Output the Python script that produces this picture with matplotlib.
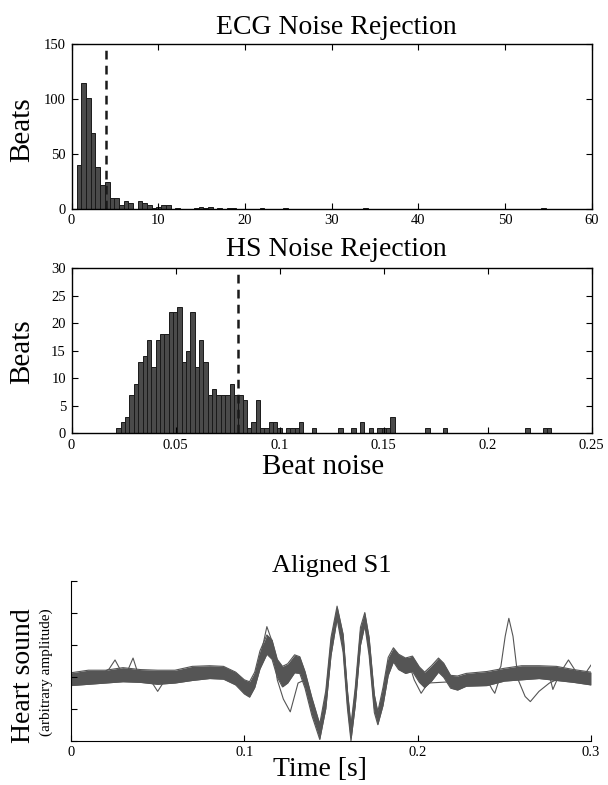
import matplotlib
matplotlib.use("Agg")
import matplotlib.pyplot as plt
import numpy as np

plt.rcParams['font.family'] = ['Liberation Serif', 'DejaVu Serif']

# ECG noise histogram: 100 equal bins
ecg_lo, ecg_width = 0.6, 0.541
ecg_counts = [0] * 100
for k, c in {0: 40, 1: 115, 2: 101, 3: 69, 4: 38, 5: 22, 6: 24, 7: 10, 8: 10,
             9: 3, 10: 7, 11: 5, 13: 7, 14: 5, 15: 3, 16: 1, 17: 2, 18: 3,
             19: 3, 21: 1, 25: 1, 26: 2, 27: 1, 28: 2, 30: 1, 32: 1, 33: 1,
             39: 1, 44: 1, 61: 1, 99: 1}.items():
    ecg_counts[k] = c
ecg_threshold = 4.0

# HS noise histogram: 100 equal bins
hs_lo, hs_width = 0.0216, 0.00209
hs_counts = [0] * 100
hs_counts[:46] = [1, 2, 3, 7, 9, 13, 14, 17, 12, 17, 18, 18, 22, 22, 23, 13,
                  15, 22, 12, 17, 13, 7, 8, 7, 7, 7, 9, 7, 7, 6, 1, 2, 6, 1,
                  1, 2, 2, 1, 0, 1, 1, 1, 2, 0, 0, 1]
for k, c in {51: 1, 54: 1, 56: 2, 58: 1, 60: 1, 61: 1, 62: 1, 63: 3, 71: 1,
             75: 1, 94: 1, 98: 1, 99: 1}.items():
    hs_counts[k] = c
hs_threshold = 0.08

# Aligned S1: centre of the bundle of traces and its half-width
s1_t = [0.000, 0.010, 0.020, 0.030, 0.040, 0.050, 0.060, 0.070, 0.080, 0.088,
        0.095, 0.100, 0.103, 0.106, 0.109, 0.113, 0.116, 0.119, 0.122, 0.125,
        0.129, 0.132, 0.135, 0.139, 0.1435, 0.147, 0.150, 0.1535, 0.157,
        0.1595, 0.1615, 0.164, 0.167, 0.1695, 0.172, 0.175, 0.177, 0.180,
        0.183, 0.186, 0.189, 0.193, 0.197, 0.201, 0.204, 0.208, 0.212, 0.215,
        0.219, 0.223, 0.228, 0.240, 0.250, 0.260, 0.270, 0.280, 0.290, 0.300]
s1_mid = [-0.04, -0.01, 0.0, 0.03, 0.01, -0.01, 0.0, 0.05, 0.07, 0.06,
          -0.03, -0.16, -0.20, -0.05, 0.26, 0.50, 0.42, 0.13, 0.0, 0.05,
          0.20, 0.18, -0.05, -0.47, -0.86, -0.36, 0.47, 1.00, 0.52,
          -0.36, -0.88, -0.31, 0.63, 0.90, 0.47, -0.42, -0.65, -0.31,
          0.16, 0.34, 0.23, 0.17, 0.20, 0.03, -0.05, 0.05, 0.18, 0.10,
          -0.08, -0.10, -0.05, -0.03, 0.03, 0.06, 0.07, 0.05, 0.01, -0.03]
s1_half = [0.10, 0.11, 0.10, 0.11, 0.10, 0.11, 0.10, 0.11, 0.10, 0.10,
           0.10, 0.11, 0.12, 0.12, 0.14, 0.15, 0.15, 0.14, 0.16, 0.15,
           0.14, 0.13, 0.13, 0.14, 0.12, 0.14, 0.14, 0.10, 0.14,
           0.14, 0.12, 0.14, 0.14, 0.10, 0.14, 0.14, 0.10, 0.14,
           0.14, 0.11, 0.12, 0.12, 0.12, 0.12, 0.12, 0.12, 0.11, 0.11,
           0.10, 0.11, 0.10, 0.11, 0.10, 0.11, 0.10, 0.11, 0.10, 0.10]

# single traces that leave the bundle
out_a_t = [0.235, 0.245, 0.248, 0.2505, 0.2526, 0.255, 0.258, 0.262, 0.265,
           0.270, 0.276, 0.280, 0.290, 0.296, 0.300]
out_a_y = [-0.03, 0.0, 0.16, 0.63, 0.91, 0.63, -0.05, -0.31, -0.39,
           -0.23, -0.10, -0.05, -0.03, 0.02, 0.18]
out_b_t = [0.015, 0.022, 0.0254, 0.029, 0.032, 0.0358, 0.039, 0.045, 0.050,
           0.055, 0.060]
out_b_y = [0.0, 0.12, 0.26, 0.08, 0.05, 0.29, 0.02, -0.02, -0.23, -0.02, 0.0]
out_c_t = [0.110, 0.113, 0.116, 0.119, 0.1225, 0.1265, 0.131, 0.135]
out_c_y = [0.40, 0.78, 0.55, -0.05, -0.35, -0.55, -0.10, -0.05]
out_d_t = [0.186, 0.190, 0.194, 0.198, 0.202, 0.206, 0.240, 0.243, 0.2445,
           0.247, 0.270, 0.276, 0.278, 0.282, 0.287, 0.292]
out_d_y = [0.30, 0.25, 0.29, -0.05, -0.26, -0.10, -0.05, -0.20, -0.26,
           -0.05, 0.10, 0.02, -0.20, 0.05, 0.26, 0.05]

W, H = 608, 785
fig = plt.figure(figsize=(W / 100, H / 100), dpi=100)


def box(l, t, r, b):
    return [l / W, 1 - b / H, (r - l) / W, (b - t) / H]


def ftext(x, y, s, size, rot=0):
    fig.text(x / W, 1 - y / H, s, fontsize=size, rotation=rot,
             ha='center', va='center')


bar_kw = dict(align='edge', color='#4a4a4a', edgecolor='#1a1a1a', linewidth=0.7)


def hist_axes(rect, lo, width, counts, thr, xlim, xticks, xlabels, ylim, yticks):
    ax = fig.add_axes(rect)
    edges = lo + width * np.arange(len(counts))
    ax.bar(edges, counts, width=width, **bar_kw)
    ax.axvline(thr, color='#1a1a1a', linestyle=(0, (3.5, 2.5)), linewidth=1.8)
    ax.set_xlim(*xlim)
    ax.set_ylim(*ylim)
    ax.set_xticks(xticks)
    ax.set_xticklabels(xlabels)
    ax.set_yticks(yticks)
    ax.tick_params(direction='in', top=True, right=True, labelsize=10.5,
                   length=4, width=0.8, pad=4)
    for sp in ax.spines.values():
        sp.set_linewidth(1.0)
    return ax


hist_axes(box(71.5, 44.3, 591.7, 208.7), ecg_lo, ecg_width, ecg_counts,
          ecg_threshold, (0, 60), [0, 10, 20, 30, 40, 50, 60],
          ['0', '10', '20', '30', '40', '50', '60'], (0, 150), [0, 50, 100, 150])
ftext(336, 27, 'ECG Noise Rejection', 20)
ftext(22, 130, 'Beats', 21, 90)

hist_axes(box(71.5, 268.3, 591.7, 433.3), hs_lo, hs_width, hs_counts,
          hs_threshold, (0, 0.25), [0, 0.05, 0.1, 0.15, 0.2, 0.25],
          ['0', '0.05', '0.1', '0.15', '0.2', '0.25'], (0, 30),
          [0, 5, 10, 15, 20, 25, 30])
ftext(336, 250, 'HS Noise Rejection', 20)
ftext(22, 352, 'Beats', 21, 90)
ftext(323, 467, 'Beat noise', 21)

# aligned S1 panel
ax = fig.add_axes(box(71, 580.5, 591, 740.7))
gray = '#555555'
mid = np.array(s1_mid)
half = np.array(s1_half)
ax.fill_between(s1_t, mid - half, mid + half, color=gray, linewidth=0)
for f in (-1.0, -0.5, 0.0, 0.5, 1.0):
    ax.plot(s1_t, mid + f * half, color=gray, linewidth=0.8)
for tt, yy in ((out_a_t, out_a_y), (out_b_t, out_b_y),
               (out_c_t, out_c_y), (out_d_t, out_d_y)):
    ax.plot(tt, yy, color=gray, linewidth=0.8)
ax.set_xlim(0, 0.3)
ax.set_ylim(-1, 1.5)
ax.set_xticks([0, 0.1, 0.2, 0.3])
ax.set_xticklabels(['0', '0.1', '0.2', '0.3'])
ax.set_yticks([-1, -0.5, 0, 0.5, 1, 1.5])
ax.set_yticklabels([])
ax.spines['top'].set_visible(False)
ax.spines['right'].set_visible(False)
ax.tick_params(direction='in', labelsize=10.5, length=4, width=0.8, pad=4)
ftext(332, 566, 'Aligned S1', 19)
ftext(24, 676, 'Heart sound', 20, 90)
ftext(46, 672, '(arbitrary amplitude)', 11, 90)
ftext(320, 769, 'Time [s]', 20)

fig.savefig('out.png', dpi=100)
